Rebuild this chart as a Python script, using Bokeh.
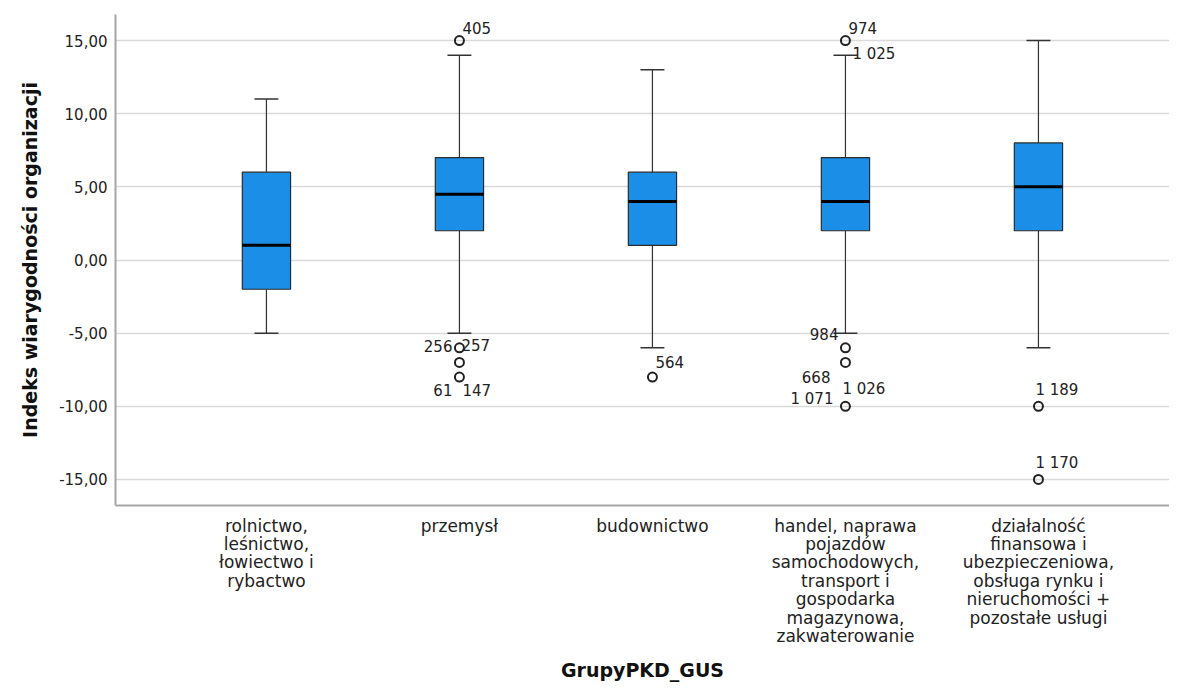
from bokeh.plotting import figure
from bokeh.models import Range1d, FixedTicker, ColumnDataSource
from bokeh.embed import file_html
from bokeh.resources import INLINE
from bokeh.core.properties import value

# ---------------- data ----------------
categories = [
    "rolnictwo,\nleśnictwo,\nłowiectwo i\nrybactwo",
    "przemysł",
    "budownictwo",
    "handel, naprawa\npojazdów\nsamochodowych,\ntransport i\ngospodarka\nmagazynowa,\nzakwaterowanie",
    "działalność\nfinansowa i\nubezpieczeniowa,\nobsługa rynku i\nnieruchomości +\npozostałe usługi",
]
whisker_low = [-5, -5, -6, -5, -6]
q1 = [-2, 2, 1, 2, 2]
median = [1, 4.5, 4, 4, 5]
q3 = [6, 7, 6, 7, 8]
whisker_high = [11, 14, 13, 14, 15]

outlier_group = [1, 1, 1, 1, 2, 3, 3, 3, 3, 4, 4]
outlier_value = [15, -6, -7, -8, -8, 15, -6, -7, -10, -10, -15]

label_group = [1, 1, 1, 1, 1, 2, 3, 3, 3, 3, 3, 3, 4, 4]
label_value = [15, -6, -6, -8, -8, -8, 15, 15, -6, -7, -10, -10, -10, -15]
label_text = ["405", "256", "257", "61", "147", "564", "974", "1 025",
              "984", "668", "1 026", "1 071", "1 189", "1 170"]

y_ticks = [-15, -10, -5, 0, 5, 10, 15]
y_tick_labels = ["-15,00", "-10,00", "-5,00", "0,00", "5,00", "10,00", "15,00"]

# ---------------- styles (label placement in px) ----------------
label_align = ["left", "right", "left", "right", "left", "left", "left", "left",
               "right", "right", "left", "right", "left", "left"]
label_dx = [3, -7, 2, -7, 3, 3, 3, 7, -7, -15, -3, -12, -3, -3]
label_dy = [-13, -2, -3, 13, 13, -15, -13, 13, -14, 15, -17, -7, -16, -16]

FONT = "DejaVu Sans"
BOX_COLOR = "#1b8ee7"
BOX_W = 0.25
CAP_W = 0.124

xs = list(range(len(categories)))

p = figure(width=1169, height=683, output_backend="svg", toolbar_location=None,
           x_range=Range1d(-0.782, 4.679), y_range=Range1d(-16.78, 16.78),
           min_border_left=115, min_border_top=14, min_border_bottom=178,
           min_border_right=0)
p.outline_line_color = None
p.background_fill_color = "white"
p.border_fill_color = "white"

# grid
p.xgrid.grid_line_color = None
p.ygrid.ticker = FixedTicker(ticks=y_ticks)
p.ygrid.grid_line_color = "#d9d9d9"
p.ygrid.grid_line_width = 1.5

# y axis
p.yaxis.ticker = FixedTicker(ticks=y_ticks)
p.yaxis.major_label_overrides = {t: l for t, l in zip(y_ticks, y_tick_labels)}
p.yaxis.axis_label = "Indeks wiarygodności organizacji"
p.yaxis.axis_label_text_font = FONT
p.yaxis.axis_label_text_font_style = "bold"
p.yaxis.axis_label_text_font_size = "19px"
p.yaxis.axis_label_text_color = "#111111"
p.yaxis.axis_label_standoff = 15
p.yaxis.major_label_text_font = FONT
p.yaxis.major_label_text_font_size = "15px"
p.yaxis.major_label_text_color = "#222222"
p.yaxis.major_label_standoff = 8
p.yaxis.major_tick_out = 0
p.yaxis.major_tick_in = 0
p.yaxis.minor_tick_line_color = None
p.yaxis.axis_line_color = "#a6a6a6"
p.yaxis.axis_line_width = 2

# x axis
p.xaxis.ticker = FixedTicker(ticks=xs)
p.xaxis.major_label_overrides = {i: c for i, c in zip(xs, categories)}
p.xaxis.axis_label = "GrupyPKD_GUS"
p.xaxis.axis_label_text_font = FONT
p.xaxis.axis_label_text_font_style = "bold"
p.xaxis.axis_label_text_font_size = "19px"
p.xaxis.axis_label_text_color = "#111111"
p.xaxis.axis_label_standoff = 10
p.xaxis.major_label_text_font = FONT
p.xaxis.major_label_text_font_size = "17px"
p.xaxis.major_label_text_color = "#222222"
p.xaxis.major_label_text_line_height = 0.92
p.xaxis.major_label_standoff = 10
p.xaxis.major_tick_out = 0
p.xaxis.major_tick_in = 0
p.xaxis.minor_tick_line_color = None
p.xaxis.axis_line_color = "#a6a6a6"
p.xaxis.axis_line_width = 2

# ---------------- boxes ----------------
src = ColumnDataSource(dict(
    x=xs, lo=whisker_low, q1=q1, med=median, q3=q3, hi=whisker_high,
    xl=[x - BOX_W / 2 for x in xs], xr=[x + BOX_W / 2 for x in xs],
    cl=[x - CAP_W / 2 for x in xs], cr=[x + CAP_W / 2 for x in xs],
))

# whiskers
p.segment(x0="x", y0="q3", x1="x", y1="hi", source=src, line_color="#333333", line_width=1.2)
p.segment(x0="x", y0="lo", x1="x", y1="q1", source=src, line_color="#333333", line_width=1.2)
p.segment(x0="cl", y0="hi", x1="cr", y1="hi", source=src, line_color="#333333", line_width=1.5)
p.segment(x0="cl", y0="lo", x1="cr", y1="lo", source=src, line_color="#333333", line_width=1.5)

# boxes
p.vbar(x="x", width=BOX_W, bottom="q1", top="q3", source=src,
       fill_color=BOX_COLOR, line_color="#2b2b2b", line_width=1.2)
# medians
p.segment(x0="xl", y0="med", x1="xr", y1="med", source=src, line_color="black", line_width=3)

# outliers
p.scatter(x=outlier_group, y=outlier_value, marker="circle", size=9,
          fill_color=None, line_color="#222222", line_width=2)

# outlier labels
lab_src = ColumnDataSource(dict(
    x=label_group, y=label_value, text=label_text,
    align=label_align, dx=label_dx, dy=label_dy,
))
p.text(x="x", y="y", text="text", source=lab_src, x_offset="dx", y_offset="dy",
       text_align="align", text_baseline="middle",
       text_font=value(FONT), text_font_size="15px", text_color="#222222")

open("out.html", "w").write(file_html(p, INLINE))
